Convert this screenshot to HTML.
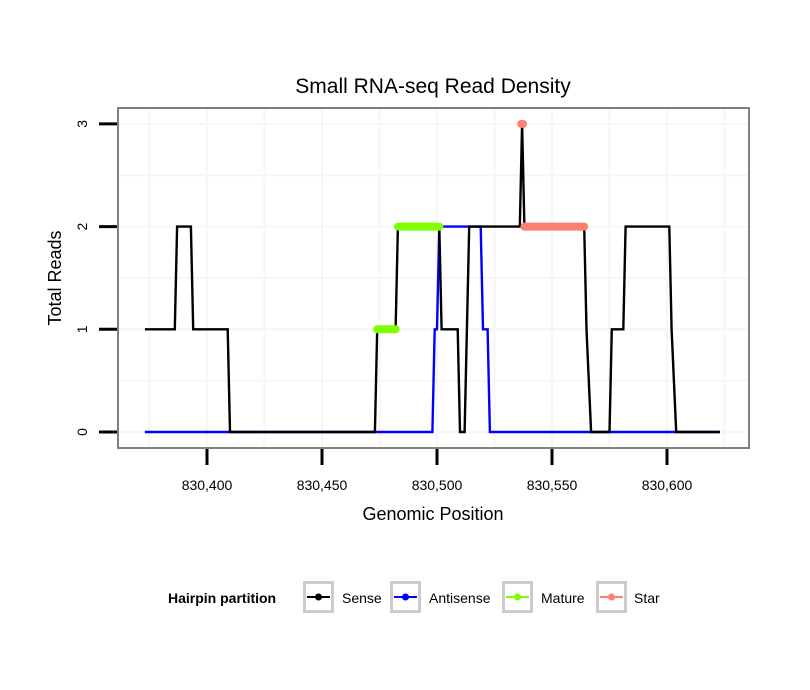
<!DOCTYPE html>
<html><head><meta charset="utf-8"><style>body{margin:0;background:#fff}svg{display:block;font-family:"Liberation Sans",sans-serif}</style></head>
<body>
<svg id="chart" width="810" height="690">
<rect width="810" height="690" fill="#fff"/>
<g id="grid"></g>
<g id="series"></g>
<rect x="118" y="108" width="631" height="340" fill="none" stroke="#808080" stroke-width="2"/>
<g id="axes"></g>
<text x="433" y="93" font-size="21" text-anchor="middle">Small RNA-seq Read Density</text>
<text x="433" y="520" font-size="18" text-anchor="middle">Genomic Position</text>
<text transform="translate(61,278) rotate(-90)" font-size="18" text-anchor="middle">Total Reads</text>
<g id="legend">
<text x="168" y="603" font-size="14" font-weight="bold">Hairpin partition</text>
</g>
</svg>
<script>
const xTicks=[830400,830450,830500,830550,830600];
const xTickLabels=["830,400","830,450","830,500","830,550","830,600"];
const yTicks=[0,1,2,3];
const yTickLabels=["0","1","2","3"];
const sensePos=[830373,830386,830387,830393,830394,830409,830410,830473,830474,830482,830483,830501,830502,830509,830510,830512,830514,830536,830537,830538,830564,830565,830567,830575,830576,830581,830582,830601,830602,830604,830623];
const senseVal=[1,1,2,2,1,1,0,0,1,1,2,2,1,1,0,0,2,2,3,2,2,1,0,0,1,1,2,2,1,0,0];
const antiPos=[830373,830498,830499,830500,830501,830519,830520,830522,830523,830623];
const antiVal=[0,0,1,1,2,2,1,1,0,0];
const maturePos=[[830474,830482],[830483,830501]];
const matureVal=[1,2];
const starPos=[[830536.6,830537.4],[830538,830564]];
const starVal=[3,2];
const legendNames=["Sense","Antisense","Mature","Star"];
const legendColors=["#000000","#0000ff","#7fff00","#fa8072"];

const NS="http://www.w3.org/2000/svg";
const xs=v=>207+(v-830400)*2.3;
const ys=v=>432-v*102.7;
function mk(tag,attrs,parent){const e=document.createElementNS(NS,tag);for(const k in attrs)e.setAttribute(k,attrs[k]);parent.appendChild(e);return e;}
const grid=document.getElementById('grid'),axes=document.getElementById('axes'),series=document.getElementById('series'),legend=document.getElementById('legend');
for(let v=830375;v<=830625;v+=25){const l=mk('line',{x1:xs(v),x2:xs(v),y1:109,y2:447,stroke:'#f6f6f6','stroke-width':2},grid);

}
for(let v=0;v<=3;v+=0.5){const l=mk('line',{x1:119,x2:748,y1:ys(v),y2:ys(v),stroke:'#f6f6f6','stroke-width':2},grid);

}
xTicks.forEach((t,i)=>{const l=mk('line',{x1:xs(t),x2:xs(t),y1:449,y2:465,stroke:'#000','stroke-width':3},axes);


const tx=mk('text',{x:xs(t),y:490,'font-size':14,'text-anchor':'middle'},axes);tx.textContent=xTickLabels[i];

});
yTicks.forEach((t,i)=>{const l=mk('line',{x1:99,x2:117,y1:ys(t),y2:ys(t),stroke:'#000','stroke-width':3},axes);


const tx=mk('text',{transform:`translate(87,${ys(t)}) rotate(-90)`,'font-size':14,'text-anchor':'middle'},axes);tx.textContent=yTickLabels[i];

});
function path(pos,val,color,name){const d=pos.map((p,i)=>(i?'L':'M')+xs(p).toFixed(1)+','+ys(val[i]).toFixed(1)).join('');
const e=mk('path',{d,fill:'none',stroke:color,'stroke-width':2.4,'stroke-linejoin':'miter'},series);

}
path(antiPos,antiVal,'#0000ff','antisense-line');
path(sensePos,senseVal,'#000000','sense-line');
function segs(pos,val,color,name){pos.forEach((p,i)=>{const e=mk('line',{x1:xs(p[0]),x2:xs(p[1]),y1:ys(val[i]),y2:ys(val[i]),stroke:color,'stroke-width':8,'stroke-linecap':'round'},series);

});}
segs(maturePos,matureVal,'#7fff00','mature-segment');
segs(starPos,starVal,'#fa8072','star-segment');
const boxX=[303,390,502,596],textX=[342,429,541,634];
legendNames.forEach((n,i)=>{const g=mk('g',{},legend);


mk('rect',{x:boxX[i]+1.5,y:582.5,width:28,height:29,fill:'#fff',stroke:'#cccccc','stroke-width':3},g);
mk('line',{x1:boxX[i]+4,x2:boxX[i]+27,y1:597,y2:597,stroke:legendColors[i],'stroke-width':2},g);
mk('circle',{cx:boxX[i]+15.5,cy:597,r:3.5,fill:legendColors[i]},g);
const t=mk('text',{x:textX[i],y:603,'font-size':14},g);t.textContent=n;});
</script>
</body></html>
